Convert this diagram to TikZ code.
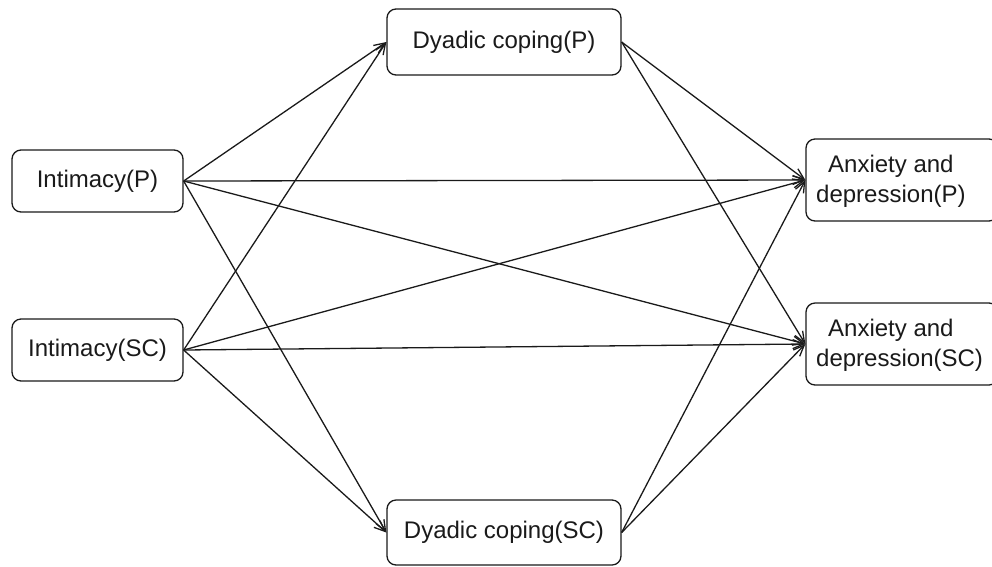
\documentclass[tikz,border=0pt]{standalone}
\usepackage{fontspec}
\setmainfont{Liberation Sans}
\usetikzlibrary{arrows.meta}
\definecolor{ink}{HTML}{1A1A1A}
\tikzset{
  box/.style={draw=ink, line width=1.3pt, rounded corners=9pt, fill=white, inner sep=0pt},
  lbl/.style={text=ink, font=\fontsize{24}{30}\selectfont, align=center, inner sep=0pt},
  lbll/.style={text=ink, font=\fontsize{24}{30}\selectfont, align=left, inner sep=0pt, anchor=west},
  link/.style={draw=ink, line width=1.3pt, -{Straight Barb[length=11pt,width=9pt,line width=1.3pt]}}
}
\begin{document}
\begin{tikzpicture}[x=1pt,y=-1pt]
\useasboundingbox (0,0) rectangle (992,566);
\clip (0,0) rectangle (992,566);
\node[box, minimum width=171pt, minimum height=62pt] (IP) at (97.5,181) {};
\node[lbl] (IPt) at (IP.center) {Intimacy(P)};
\node[box, minimum width=171pt, minimum height=62pt] (IS) at (97.5,350) {};
\node[lbl] (ISt) at (IS.center) {Intimacy(SC)};
\node[box, minimum width=234pt, minimum height=66pt] (DP) at (504,42) {};
\node[lbl] (DPt) at (DP.center) {Dyadic coping(P)};
\node[box, minimum width=234pt, minimum height=65pt] (DS) at (504,532.5) {};
\node[lbl] (DSt) at (DS.center) {Dyadic coping(SC)};
\node[box, minimum width=192pt, minimum height=82pt] (AP) at (902,180) {};
\node[lbll] (APt) at (816,181) {\hspace*{12pt}Anxiety and\\depression(P)};
\node[box, minimum width=192pt, minimum height=82pt] (AS) at (902,344) {};
\node[lbll] (ASt) at (816,345) {\hspace*{12pt}Anxiety and\\depression(SC)};
\draw[link] (IP.east) -- (DP.west);
\draw[link] (IP.east) -- (DS.west);
\draw[link] (IP.east) -- (AP.west);
\draw[link] (IP.east) -- (AS.west);
\draw[link] (IS.east) -- (DP.west);
\draw[link] (IS.east) -- (DS.west);
\draw[link] (IS.east) -- (AP.west);
\draw[link] (IS.east) -- (AS.west);
\draw[link] (DP.east) -- (AP.west);
\draw[link] (DP.east) -- (AS.west);
\draw[link] (DS.east) -- (AP.west);
\draw[link] (DS.east) -- (AS.west);
\end{tikzpicture}
\end{document}
